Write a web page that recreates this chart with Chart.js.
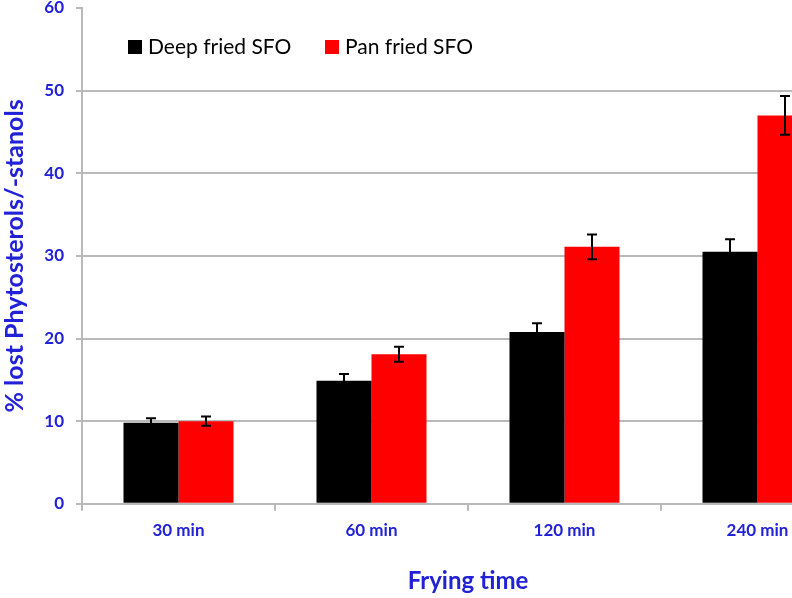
<!DOCTYPE html>
<html>
<head>
<meta charset="utf-8">
<script src="https://cdn.jsdelivr.net/npm/chart.js@4.4.0/dist/chart.umd.min.js"></script>
<style>
  html, body { margin: 0; padding: 0; background: #fff; overflow: hidden; }
  #wrap { width: 792px; height: 598px; overflow: hidden; }
</style>
</head>
<body>
<div id="wrap"><canvas id="myChart" width="870" height="598"></canvas></div>
<script>
// data
const categories = ['30 min', '60 min', '120 min', '240 min'];
const seriesNames = ['Deep fried SFO', 'Pan fried SFO'];
const deepFried = [9.8, 14.9, 20.8, 30.5];
const deepFriedErr = [0.55, 0.8, 1.05, 1.5];
const panFried = [10.0, 18.1, 31.1, 47.0];
const panFriedErr = [0.55, 0.9, 1.5, 2.35];
const yTicks = [0, 10, 20, 30, 40, 50, 60];

const blue = '#2121d8';
const gridGrey = '#b9b9b9';
const fontFamily = 'Lato, "Open Sans", sans-serif';

// error bars drawn through the y scale
const errorBars = {
    id: 'errorBars',
    afterDatasetsDraw(chart) {
        const ctx = chart.ctx;
        const y = chart.scales.y;
        ctx.save();
        ctx.strokeStyle = '#000';
        ctx.lineWidth = 2;
        chart.data.datasets.forEach((ds, di) => {
            const meta = chart.getDatasetMeta(di);
            meta.data.forEach((bar, i) => {
                const v = ds.data[i], e = ds.errors[i];
                const top = y.getPixelForValue(v + e);
                const bot = y.getPixelForValue(v - e);
                const x = bar.x;
                ctx.beginPath();
                ctx.moveTo(x, top); ctx.lineTo(x, bot);
                ctx.moveTo(x - 5, top); ctx.lineTo(x + 5, top);
                ctx.moveTo(x - 5, bot); ctx.lineTo(x + 5, bot);
                ctx.stroke();
            });
        });
        ctx.restore();
    }
};

// legend sits inside the plot, top left
const innerLegend = {
    id: 'innerLegend',
    afterDraw(chart) {
        const ctx = chart.ctx;
        const area = chart.chartArea;
        let x = area.left + 46;
        const yMid = area.top + 39;
        ctx.save();
        ctx.font = '21px ' + fontFamily;
        ctx.textBaseline = 'middle';
        chart.data.datasets.forEach(ds => {
            ctx.fillStyle = ds.backgroundColor;
            ctx.fillRect(x, yMid - 7, 14, 14);
            ctx.fillStyle = '#000';
            ctx.fillText(ds.label, x + 20, yMid);
            x += 197;
        });
        ctx.restore();
    }
};

const ctx = document.getElementById('myChart').getContext('2d');
new Chart(ctx, {
    type: 'bar',
    data: {
        labels: categories,
        datasets: [{
            label: seriesNames[0],
            data: deepFried,
            errors: deepFriedErr,
            backgroundColor: '#000000'
        }, {
            label: seriesNames[1],
            data: panFried,
            errors: panFriedErr,
            backgroundColor: '#ff0000'
        }]
    },
    options: {
        responsive: false,
        animation: false,
        categoryPercentage: 0.57,
        barPercentage: 1.0,
        layout: { padding: { top: 8, right: 16, left: 0, bottom: 0 } },
        plugins: {
            legend: { display: false },
            tooltip: { enabled: false }
        },
        scales: {
            x: {
                grid: {
                    offset: true,
                    drawOnChartArea: false,
                    tickLength: 7,
                    color: gridGrey,
                    lineWidth: 2
                },
                border: { color: gridGrey, width: 2 },
                ticks: {
                    color: blue,
                    padding: 10,
                    font: { family: fontFamily, size: 17, weight: 'bold' }
                },
                title: {
                    display: true,
                    text: 'Frying time',
                    color: blue,
                    padding: { top: 16, bottom: 2 },
                    font: { family: fontFamily, size: 24, weight: 'bold' }
                }
            },
            y: {
                min: 0,
                max: 60,
                afterBuildTicks(scale) {
                    scale.ticks = yTicks.map(v => ({ value: v }));
                },
                afterFit(scale) {
                    scale.width = 82;
                    scale.paddingTop = 0;
                    scale.paddingBottom = 0;
                },
                grid: {
                    tickLength: 6,
                    color: c => (c.tick && c.tick.value === 60) ? 'rgba(0,0,0,0)' : gridGrey,
                    tickColor: gridGrey,
                    lineWidth: 2
                },
                border: { color: gridGrey, width: 2 },
                ticks: {
                    color: blue,
                    padding: 12,
                    font: { family: fontFamily, size: 17, weight: 'bold' }
                },
                title: {
                    display: true,
                    text: '% lost Phytosterols/-stanols',
                    color: blue,
                    padding: { top: 0, bottom: 0 },
                    font: { family: fontFamily, size: 25, weight: 'bold' }
                }
            }
        }
    },
    plugins: [errorBars, innerLegend]
});
</script>
</body>
</html>
